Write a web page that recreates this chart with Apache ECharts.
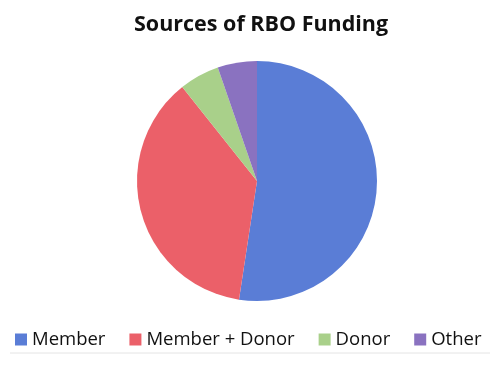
<!DOCTYPE html>
<html>
<head>
<meta charset="utf-8">
<script src="https://cdn.jsdelivr.net/npm/echarts@6/dist/echarts.min.js"></script>
<style>
  html, body { margin: 0; padding: 0; background: #fff; }
  #chart { width: 500px; height: 378px; }
</style>
</head>
<body>
<div id="chart"></div>
<script>
// slice names and shares (percent)
const categories = ['Member', 'Member + Donor', 'Donor', 'Other']
const shares = [52.4, 36.9, 5.4, 5.3]
const colors = ['#5a7dd6', '#eb6069', '#a9d08a', '#8a72c0']

const chart = echarts.init(document.getElementById('chart'))
chart.setOption({
  backgroundColor: '#fff',
  title: {
    text: 'Sources of RBO Funding',
    left: 129,
    top: 9,
    textStyle: {
      fontFamily: 'Open Sans',
      fontWeight: 'bold',
      fontSize: 21.5,
      color: '#111'
    }
  },
  color: colors,
  legend: {
    data: categories,
    left: 10,
    top: 325,
    icon: 'rect',
    itemWidth: 12,
    itemHeight: 12,
    itemGap: 24,
    textStyle: {
      fontFamily: 'Open Sans',
      fontSize: 18.5,
      color: '#111'
    }
  },
  graphic: [{
    type: 'line',
    shape: { x1: 10, y1: 353, x2: 490, y2: 353 },
    style: { stroke: '#e4e4e4', lineWidth: 1 }
  }],
  series: [{
    type: 'pie',
    center: [257, 181],
    radius: 120,
    startAngle: 90,
    clockwise: true,
    label: { show: false },
    labelLine: { show: false },
    emphasis: { disabled: true },
    data: categories.map((name, i) => ({ name: name, value: shares[i] }))
  }]
})
</script>
</body>
</html>
